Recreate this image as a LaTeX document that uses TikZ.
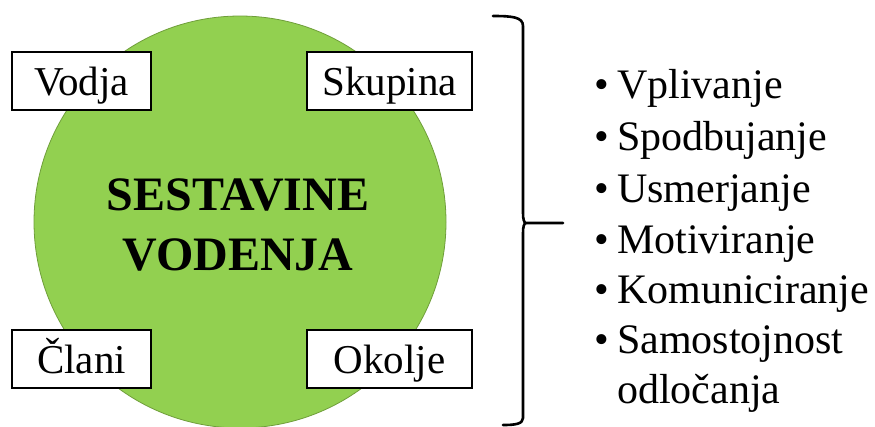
\documentclass[tikz,border=0pt]{standalone}
\usepackage{fontspec}
\setmainfont{Liberation Serif}
\definecolor{leafgreen}{HTML}{92D050}
\definecolor{leafedge}{HTML}{6F9E3A}
\tikzset{
  part/.style={draw=black, line width=1.4pt, fill=white, inner sep=0pt,
    minimum width=139pt, minimum height=58pt, text height=36pt, text depth=8pt,
    font=\fontsize{41}{49}\selectfont},
  item/.style={anchor=base west, inner sep=0pt, font=\fontsize{42}{50}\selectfont},
  dot/.style={anchor=base west, inner sep=0pt, font=\fontsize{42}{50}\selectfont},
  brace/.style={draw=black, line width=2.6pt, line cap=round, line join=round}
}
\begin{document}
\begin{tikzpicture}[x=1pt, y=-1pt]
  \useasboundingbox (0,0) rectangle (875,426);

  % central circle
  \node[circle, fill=leafgreen, draw=leafedge, line width=0.8pt,
        minimum size=412pt, inner sep=0pt] (core) at (240,222) {};
  \node[align=center, inner sep=0pt, font=\bfseries\fontsize{48}{60}\selectfont]
        (title) at (238,225) {SESTAVINE\\VODENJA};

  % four components
  \node[part] (vodja)   at (81.5,81)   {Vodja};
  \node[part, minimum width=165pt] (skupina) at (389.5,81)  {Skupina};
  \node[part] (clani)   at (81.5,359)  {Člani};
  \node[part, minimum width=165pt] (okolje)  at (389.5,359) {Okolje};

  % right brace
  \coordinate (bt) at (493,16);
  \coordinate (bk) at (526,223);
  \coordinate (tip) at (563,223);
  \coordinate (bb) at (503,425);
  \draw[brace] (bt) .. controls (512,16) and (523,17) .. (523,26)
        -- (523,213) .. controls (523,219) and (524,223) .. (bk) -- (tip);
  \draw[brace] (bk) .. controls (524,223) and (523,227) .. (523,233)
        -- (523,418) .. controls (523,424) and (515,425) .. (bb);

  % list of activities
  \foreach \n/\y in {1/98, 2/150, 3/202, 4/253, 5/303, 6/353}
    \node[dot] (d\n) at (594.5,\y) {•};
  \node[item] (b1) at (617,98)  {Vplivanje};
  \node[item] (b2) at (617,150) {Spodbujanje};
  \node[item] (b3) at (617,202) {Usmerjanje};
  \node[item] (b4) at (617,253) {Motiviranje};
  \node[item] (b5) at (617,303) {Komuniciranje};
  \node[item] (b6) at (617,353) {Samostojnost};
  \node[item] (b7) at (617,403) {odločanja};
\end{tikzpicture}
\end{document}
